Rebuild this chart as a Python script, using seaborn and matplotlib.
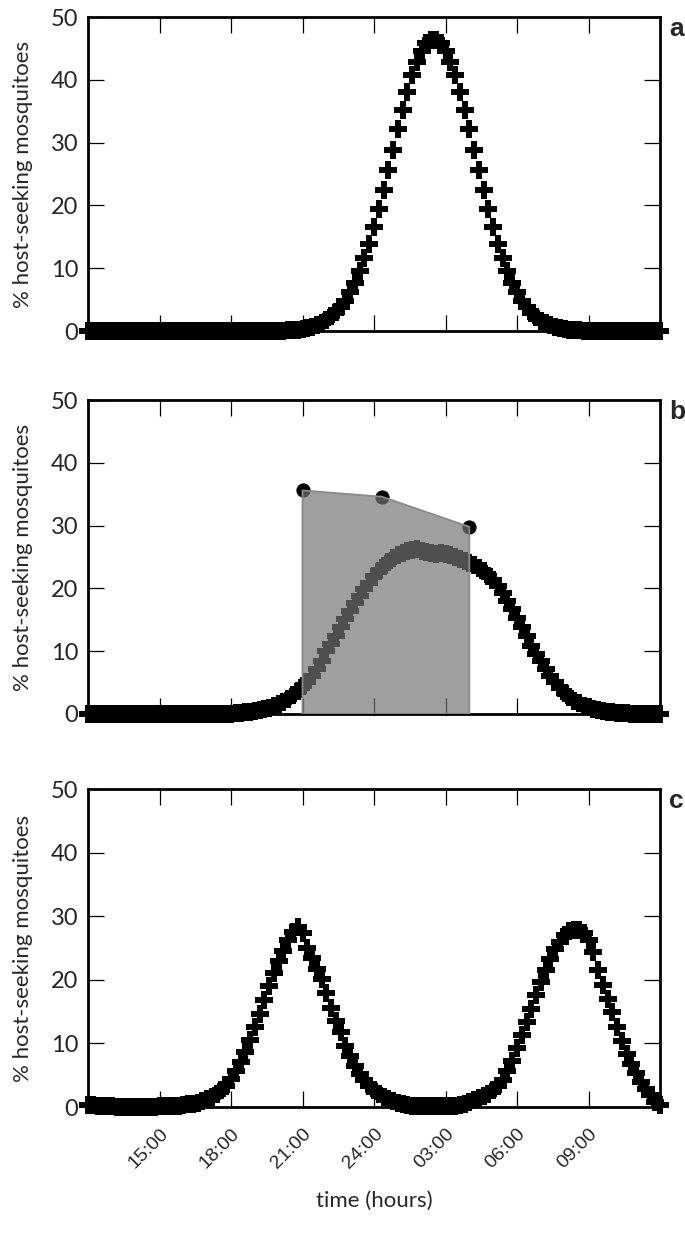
import matplotlib
matplotlib.use("Agg")
import matplotlib.pyplot as plt
import seaborn as sns
import pandas as pd

# ---------------- data ----------------
# sampling times in hours since midnight of day 1 (12:00 -> 12:00 next day)
sample_hours = [
    12.0, 12.2, 12.4, 12.6, 12.8, 13.0, 13.2, 13.4, 13.6, 13.8,
    14.0, 14.2, 14.4, 14.6, 14.8, 15.0, 15.2, 15.4, 15.6, 15.8,
    16.0, 16.2, 16.4, 16.6, 16.8, 17.0, 17.2, 17.4, 17.6, 17.8,
    18.0, 18.2, 18.4, 18.6, 18.8, 19.0, 19.2, 19.4, 19.6, 19.8,
    20.0, 20.2, 20.4, 20.6, 20.8, 21.0, 21.2, 21.4, 21.6, 21.8,
    22.0, 22.2, 22.4, 22.6, 22.8, 23.0, 23.2, 23.4, 23.6, 23.8,
    24.0, 24.2, 24.4, 24.6, 24.8, 25.0, 25.2, 25.4, 25.6, 25.8,
    26.0, 26.2, 26.4, 26.6, 26.8, 27.0, 27.2, 27.4, 27.6, 27.8,
    28.0, 28.2, 28.4, 28.6, 28.8, 29.0, 29.2, 29.4, 29.6, 29.8,
    30.0, 30.2, 30.4, 30.6, 30.8, 31.0, 31.2, 31.4, 31.6, 31.8,
    32.0, 32.2, 32.4, 32.6, 32.8, 33.0, 33.2, 33.4, 33.6, 33.8,
    34.0, 34.2, 34.4, 34.6, 34.8, 35.0, 35.2, 35.4, 35.6, 35.8,
    36.0,
]

host_seeking_a = [
    0, 0, 0, 0, 0, 0, 0, 0, 0, 0,
    0, 0, 0, 0, 0, 0, 0, 0, 0, 0,
    0, 0, 0, 0, 0, 0, 0, 0, 0, 0,
    0, 0, 0, 0, 0, 0, 0, 0, 0, 0,
    0, 0.05, 0.1, 0.15, 0.22, 0.31, 0.45, 0.7, 1.0, 1.35,
    1.8, 2.4, 3.1, 3.9, 4.85, 6.2, 7.7, 9.5, 11.6, 13.9,
    16.6, 19.4, 22.4, 25.6, 28.9, 32.1, 35.2, 38.1, 40.7, 42.9,
    44.6, 45.8, 46.4, 46.4, 45.8, 44.6, 42.9, 40.7, 38.1, 35.2,
    32.1, 28.9, 25.6, 22.4, 19.4, 16.6, 13.9, 11.6, 9.5, 7.7,
    6.2, 4.85, 3.8, 2.9, 2.2, 1.6, 1.2, 0.88, 0.63, 0.45,
    0.31, 0.22, 0.15, 0.1, 0.05, 0, 0, 0, 0, 0,
    0, 0, 0, 0, 0, 0, 0, 0, 0, 0,
    0,
]

host_seeking_b = [
    0, 0, 0, 0, 0, 0, 0, 0, 0, 0,
    0, 0, 0, 0, 0, 0, 0, 0, 0, 0,
    0, 0, 0, 0, 0, 0, 0, 0, 0, 0,
    0.05, 0.1, 0.15, 0.25, 0.35, 0.45, 0.6, 0.8, 1.0, 1.25,
    1.55, 1.9, 2.4, 3.0, 3.7, 4.4, 5.1, 6.0, 7.1, 8.5,
    10.0, 11.1, 12.5, 13.8, 15.1, 16.4, 17.6, 18.8, 19.9, 20.9,
    21.9, 22.7, 23.5, 24.2, 24.8, 25.3, 25.6, 25.9, 26.1, 26.2,
    26.0, 25.8, 25.6, 25.5, 25.6, 25.5, 25.3, 25.0, 24.7, 24.3,
    24.0, 23.7, 23.2, 22.7, 22.0, 21.3, 20.4, 19.3, 18.0, 16.7,
    15.3, 13.9, 12.4, 10.9, 9.6, 8.4, 7.2, 6.1, 5.1, 4.2,
    3.3, 2.7, 2.1, 1.7, 1.35, 1.05, 0.8, 0.6, 0.45, 0.33,
    0.25, 0.18, 0.12, 0.08, 0.05, 0, 0, 0, 0, 0,
    0,
]

host_seeking_c = [
    0.3, 0.25, 0.2, 0.15, 0.1, 0.08, 0.06, 0.05, 0.05, 0.05,
    0.05, 0.05, 0.05, 0.05, 0.06, 0.08, 0.1, 0.13, 0.17, 0.22,
    0.3, 0.4, 0.55, 0.7, 0.9, 1.2, 1.55, 2.0, 2.6, 3.3,
    4.4, 5.6, 7.0, 8.6, 10.6, 12.6, 14.6, 16.9, 19.0, 21.0,
    22.9, 24.6, 26.2, 27.5, 28.3, 27.3, 25.0, 23.4, 21.7, 20.1,
    17.9, 15.6, 13.5, 11.8, 9.6, 8.0, 6.5, 5.2, 4.2, 3.3,
    2.6, 2.0, 1.55, 1.2, 0.9, 0.65, 0.45, 0.3, 0.2, 0.15,
    0.1, 0.1, 0.1, 0.1, 0.1, 0.12, 0.15, 0.2, 0.35, 0.55,
    0.8, 1.05, 1.35, 1.7, 2.1, 2.6, 3.3, 4.3, 5.6, 7.3,
    9.2, 11.3, 13.3, 15.4, 17.6, 19.7, 21.6, 23.3, 24.8, 26.0,
    27.0, 27.6, 27.9, 27.9, 27.4, 26.3, 24.3, 21.6, 19.2, 17.0,
    14.9, 12.6, 10.4, 8.4, 6.8, 5.3, 4.0, 2.8, 1.9, 0.8,
    0.3,
]

# observation window in panel b (black dots joined by grey polygon)
window_hours = [21.0, 24.33, 28.0]
window_values = [35.6, 34.6, 29.8]

tick_hours = [15, 18, 21, 24, 27, 30, 33]
tick_labels = ["15:00", "18:00", "21:00", "24:00", "03:00", "06:00", "09:00"]
y_ticks = [0, 10, 20, 30, 40, 50]
panel_letters = ["a", "b", "c"]
y_title = "% host-seeking mosquitoes"
x_title = "time (hours)"

# ---------------- style ----------------
sns.set_style("ticks")
plt.rcParams["font.family"] = ["Lato", "DejaVu Sans"]

W, H = 685, 1238
fig = plt.figure(figsize=(W / 100, H / 100), dpi=100)

left_px, right_px = 88, 660
panels_px = [(17, 331), (400, 714), (789, 1107)]

series = [host_seeking_a, host_seeking_b, host_seeking_c]
axes = []
for k, (top, bot) in enumerate(panels_px):
    ax = fig.add_axes([left_px / W, 1 - bot / H, (right_px - left_px) / W, (bot - top) / H])
    axes.append(ax)
    df = pd.DataFrame({"hour": sample_hours, "pct": series[k]})
    sns.scatterplot(data=df, x="hour", y="pct", ax=ax, marker="P", s=150,
                    color="black", linewidth=0, clip_on=False, zorder=3)
    ax.set_xlim(12, 36)
    ax.set_ylim(0, 50)
    ax.set_xticks(tick_hours)
    ax.set_yticks(y_ticks)
    ax.set_yticklabels([str(v) for v in y_ticks], fontsize=17)
    ax.tick_params(direction="in", length=11.5, width=0.9, top=True, right=True,
                   color="black", pad=7)
    for sp in ax.spines.values():
        sp.set_linewidth(2.0)
        sp.set_color("black")
        sp.set_visible(True)
    ax.set_xlabel("")
    ax.set_ylabel(y_title, fontsize=16)
    ax.yaxis.set_label_coords(-0.096, 0.5)
    ax.text(1.016, 1.0, panel_letters[k], transform=ax.transAxes, ha="left", va="top",
            fontsize=19, fontweight="bold", family=["Liberation Sans", "DejaVu Sans"])
    if k < 2:
        ax.tick_params(labelbottom=False)

# panel b: observation window
axb = axes[1]
wdf = pd.DataFrame({"hour": window_hours, "pct": window_values})
sns.scatterplot(data=wdf, x="hour", y="pct", ax=axb, s=105, color="black",
                linewidth=0, zorder=4, clip_on=False)
axb.fill([window_hours[0]] + window_hours + [window_hours[-1]],
         [0] + window_values + [0],
         facecolor=(0.455, 0.455, 0.455, 0.69), edgecolor="#8a8a8a",
         linewidth=1.3, zorder=5)
axb.set_xlabel("")
axb.set_ylabel(y_title, fontsize=16)

# panel c: time axis labels
axc = axes[2]
axc.set_xticklabels(tick_labels, rotation=45, ha="right", va="top",
                    rotation_mode="anchor", fontsize=14,
                    fontfamily=["Liberation Sans", "DejaVu Sans"])
axc.tick_params(axis="x", pad=13)
axc.set_xlabel(x_title, fontsize=16)
axc.xaxis.set_label_coords(0.5, -0.265)

fig.savefig("out.png", dpi=100)
